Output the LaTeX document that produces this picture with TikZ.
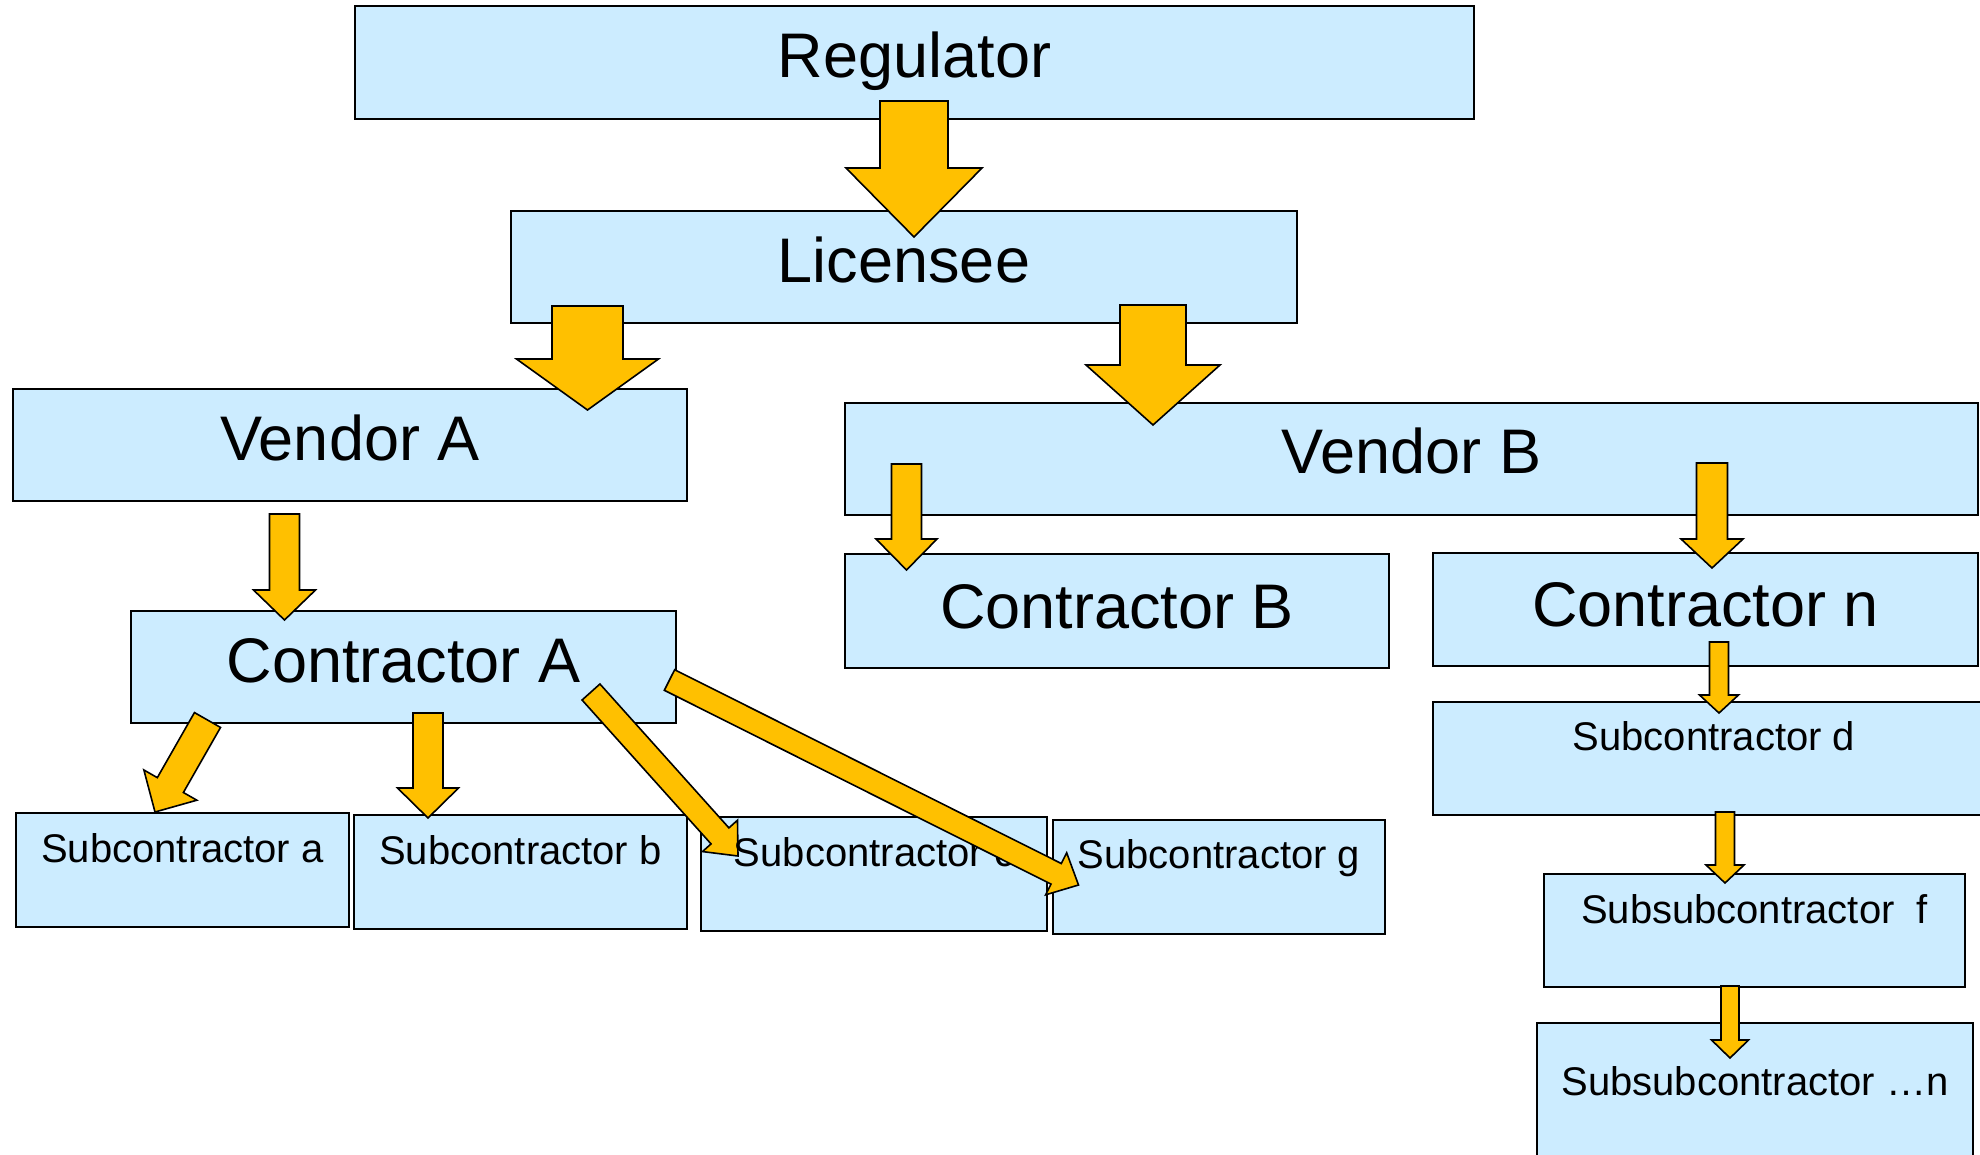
\documentclass[tikz,border=0pt]{standalone}
\usepackage{fontspec}
\setmainfont{Liberation Sans}
\usetikzlibrary{calc}
\definecolor{boxfill}{RGB}{204,236,255}
\definecolor{arrfill}{RGB}{255,192,0}
\tikzset{
  box/.style={draw=black, line width=2pt, fill=boxfill, rectangle, inner sep=0pt, outer sep=0pt},
  dims/.style 2 args={minimum width=#1pt, minimum height=#2pt},
  bigtxt/.style={font=\fontsize{63}{70}\selectfont, inner sep=0pt, anchor=base},
  smalltxt/.style={font=\fontsize{40}{46}\selectfont, inner sep=0pt, anchor=base},
  blockarr/.style={draw=black, line width=1.6pt, fill=arrfill, line join=miter},
}
% #1 tail, #2 tip, #3 half shaft width, #4 half head width, #5 head length
\newcommand\blockarrow[5]{%
  \coordinate (hb) at ($(#2)!#5!(#1)$);
  \draw[blockarr] ($(#1)!#3!90:(#2)$) -- ($(hb)!#3!90:(#2)$) -- ($(hb)!#4!90:(#2)$) -- (#2)
    -- ($(hb)!#4!-90:(#2)$) -- ($(hb)!#3!-90:(#2)$) -- ($(#1)!#3!-90:(#2)$) -- cycle;
}
\begin{document}
\begin{tikzpicture}[x=1pt,y=-1pt]
\clip (0,0) rectangle (1980,1155);
\fill[white] (0,0) rectangle (1980,1155);

% boxes
\node[box, dims={1119}{113}] (reg)  at (914.5,62.5) {};
\node[box, dims={786}{112}]  (lic)  at (904,267) {};
\node[box, dims={674}{112}]  (venA) at (350,445) {};
\node[box, dims={1133}{112}] (venB) at (1411.5,459) {};
\node[box, dims={545}{112}]  (conA) at (403.5,667) {};
\node[box, dims={544}{114}]  (conB) at (1117,611) {};
\node[box, dims={545}{113}]  (conN) at (1705.5,609.5) {};
\node[box, dims={567}{113}]  (subD) at (1716.5,758.5) {};
\node[box, dims={421}{113}]  (subF) at (1754.5,930.5) {};
\node[box, dims={436}{157}]  (subN) at (1755,1101.5) {};
\node[box, dims={333}{114}]  (subA) at (182.5,870) {};
\node[box, dims={333}{114}]  (subB) at (520.5,872) {};
\node[box, dims={346}{114}]  (subC) at (874,874) {};
\node[box, dims={332}{114}]  (subG) at (1219,877) {};

% arrow end points
\coordinate (a1s) at (914,101);    \coordinate (a1e) at (914,237);
\coordinate (a2s) at (587.5,306);  \coordinate (a2e) at (587.5,410);
\coordinate (a3s) at (1153,305);   \coordinate (a3e) at (1153,425);
\coordinate (a4s) at (284.5,514);  \coordinate (a4e) at (284.5,620);
\coordinate (a5s) at (207.5,720);  \coordinate (a5e) at (155,812);
\coordinate (a6s) at (428,713);    \coordinate (a6e) at (428,818);
\coordinate (a7s) at (591,692);    \coordinate (a7e) at (738,856);
\coordinate (a8s) at (669.5,680);  \coordinate (a8e) at (1078.5,885);
\coordinate (a9s) at (906.5,464);  \coordinate (a9e) at (906.5,570);
\coordinate (a10s) at (1712,463);  \coordinate (a10e) at (1712,568);
\coordinate (a11s) at (1719,642);  \coordinate (a11e) at (1719,713);
\coordinate (a12s) at (1725,812);  \coordinate (a12e) at (1725,883);
\coordinate (a13s) at (1730,986);  \coordinate (a13e) at (1730,1058);

% arrows
\blockarrow{a1s}{a1e}{34pt}{68pt}{69pt}
\blockarrow{a2s}{a2e}{35.5pt}{71pt}{51pt}
\blockarrow{a3s}{a3e}{33pt}{67pt}{60pt}
\blockarrow{a4s}{a4e}{15pt}{31pt}{30pt}
\blockarrow{a5s}{a5e}{15pt}{30.5pt}{31pt}
\blockarrow{a6s}{a6e}{15pt}{30.5pt}{30pt}
\blockarrow{a7s}{a7e}{12pt}{23.5pt}{27pt}
\blockarrow{a9s}{a9e}{15pt}{30.5pt}{31pt}
\blockarrow{a10s}{a10e}{15.5pt}{31pt}{29pt}
\blockarrow{a11s}{a11e}{9.5pt}{19.5pt}{18pt}
\blockarrow{a12s}{a12e}{9.5pt}{19pt}{18pt}
\blockarrow{a13s}{a13e}{9pt}{18.5pt}{18pt}

% texts
\node[bigtxt] (regT)  at ($(reg.center)+(0,15.5)$)  {Regulator};
\node[bigtxt] (licT)  at ($(lic.center)+(0,16)$)    {Licensee};
\node[bigtxt] (venAT) at ($(venA.center)+(0,15)$)   {Vendor A};
\node[bigtxt] (venBT) at ($(venB.center)+(0,14.5)$) {Vendor B};
\node[bigtxt] (conAT) at ($(conA.center)+(0,15)$)   {Contractor A};
\node[bigtxt] (conBT) at ($(conB.center)+(0,17)$)   {Contractor B};
\node[bigtxt] (conNT) at ($(conN.center)+(0,16.5)$) {Contractor n};
\node[smalltxt] (subAT) at ($(subA.north)+(0,49)$) {Subcontractor a};
\node[smalltxt] (subBT) at ($(subB.north)+(0,49)$) {Subcontractor b};
\node[smalltxt] (subCT) at ($(subC.north)+(0,49)$) {Subcontractor c};
\node[smalltxt] (subGT) at ($(subG.north)+(0,48)$) {Subcontractor g};
\node[smalltxt] (subDT) at ($(subD.north)+(-2.5,48)$) {Subcontractor d};
\node[smalltxt] (subFT) at ($(subF.north)+(0,49)$) {Subsubcontractor\ \ f};
\node[smalltxt] (subNT) at ($(subN.north)+(0,72)$) {Subsubcontractor …n};

% arrow drawn over the text
\blockarrow{a8s}{a8e}{11.5pt}{23.5pt}{25pt}
\end{tikzpicture}
\end{document}
